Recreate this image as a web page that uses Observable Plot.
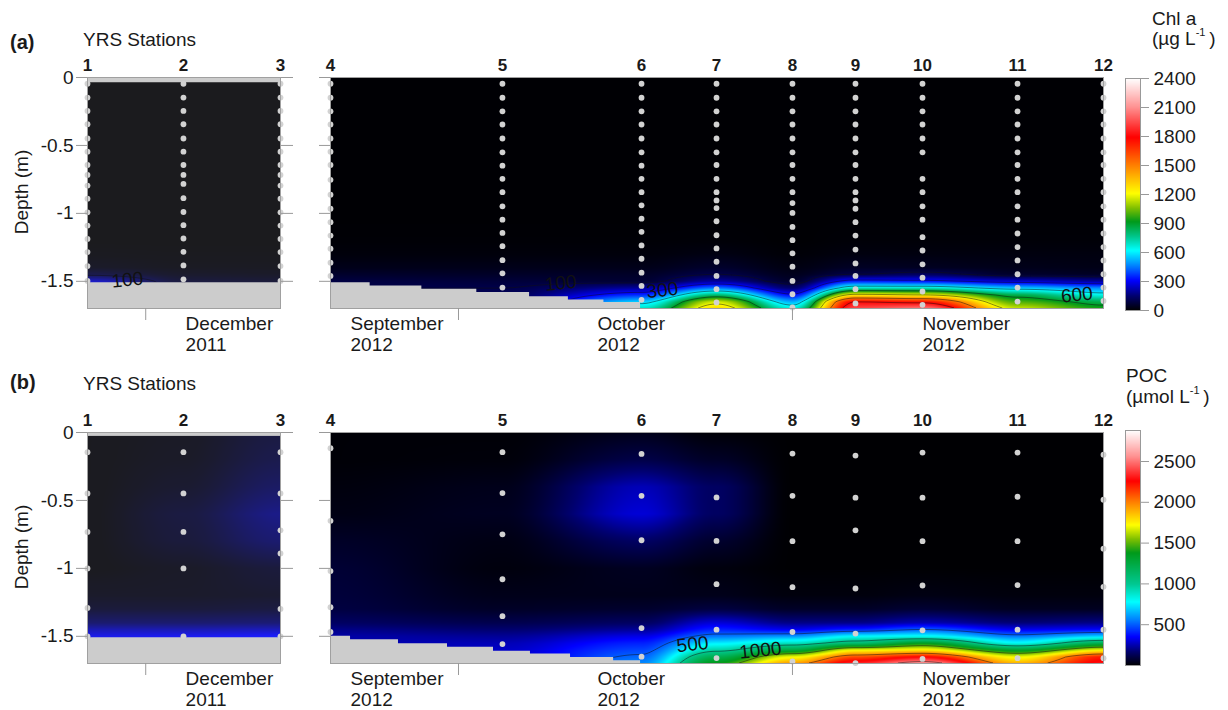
<!DOCTYPE html>
<html><head><meta charset="utf-8">
<script src="https://cdn.jsdelivr.net/npm/d3@7"></script>
<script src="https://cdn.jsdelivr.net/npm/@observablehq/plot@0.6"></script>
<style>
body{margin:0;background:#fff;font-family:"Liberation Sans",Arial,Helvetica,sans-serif;}
#root{position:relative;width:1228px;height:710px;overflow:hidden;background:#fff;}
.lbl{position:absolute;font-size:19px;color:#1a1a1a;white-space:nowrap;line-height:1;}
.lbl sup{font-size:11px;vertical-align:9px;line-height:0;}
</style></head><body><div id="root"></div>
<script>
// ---------- data ----------
const depthLevels = [0, -0.2, -0.4, -0.6, -0.8, -1.0, -1.2, -1.3, -1.4, -1.45, -1.5, -1.55, -1.6, -1.65, -1.7];
const depthTicks = [0, -0.5, -1, -1.5];

// x = days since 1 Dec 2011 (left) / since 1 Sep 2012 (right)
const stations2011 = ["1", "2", "3"];
const stationDays2011 = [-5.4, 3.5, 12.5];
const stations2012 = ["4", "5", "6", "7", "8", "9", "10", "11", "12"];
const stationDays2012 = [18.12, 34.08, 46.99, 53.95, 61.0, 66.85, 73.07, 81.89, 89.87];

const monthTickDays2011 = [0];
const monthTickDays2012 = [30, 61];
const monthLabels2011 = ["December\n2011"];
const monthLabelDays2011 = [3.7];
const monthLabels2012 = ["September\n2012", "October\n2012", "November\n2012"];
const monthLabelDays2012 = [19.98, 42.9, 73.07];

// Chl a (µg/L) per station at depthLevels
const chl2011 = [
  [5, 5, 5, 5, 5, 5, 5, 10, 25, 80, 250, 300, 300, 300, 300],
  [5, 5, 5, 5, 5, 5, 5, 8, 15, 30, 60, 70, 70, 70, 70],
  [5, 5, 5, 5, 5, 5, 5, 8, 15, 25, 50, 60, 60, 60, 60]
];
const chl2012 = [
  [5, 5, 5, 5, 5, 5, 8, 15, 35, 60, 90, 100, 100, 100, 100],
  [5, 5, 5, 5, 5, 5, 8, 15, 35, 55, 80, 100, 120, 120, 120],
  [5, 5, 5, 5, 5, 5, 8, 15, 35, 55, 70, 200, 360, 560, 700],
  [5, 5, 5, 5, 5, 5, 10, 25, 60, 100, 200, 450, 800, 1150, 1300],
  [5, 5, 5, 5, 5, 5, 5, 10, 25, 40, 60, 150, 320, 520, 680],
  [5, 5, 5, 5, 5, 5, 10, 20, 50, 100, 350, 700, 1250, 1800, 1950],
  [5, 5, 5, 5, 5, 5, 10, 20, 45, 130, 330, 700, 1200, 1750, 2050],
  [5, 5, 5, 5, 5, 5, 10, 20, 35, 60, 250, 550, 850, 1000, 1150],
  [5, 5, 5, 5, 5, 5, 10, 20, 30, 50, 200, 480, 650, 850, 950]
];

// POC (µmol/L) per station at depthLevels
const poc2011 = [
  [10, 10, 10, 10, 10, 10, 30, 60, 150, 250, 330, 350, 350, 350, 350],
  [20, 25, 40, 70, 60, 25, 30, 60, 150, 250, 340, 360, 360, 360, 360],
  [70, 90, 130, 190, 150, 60, 40, 70, 160, 260, 360, 380, 380, 380, 380]
];
const poc2012 = [
  [10, 10, 20, 30, 60, 80, 90, 100, 150, 200, 240, 250, 250, 250, 250],
  [10, 15, 40, 50, 30, 20, 40, 60, 120, 170, 220, 260, 280, 280, 280],
  [40, 110, 260, 300, 150, 50, 40, 70, 150, 220, 320, 400, 460, 520, 580],
  [10, 60, 150, 150, 70, 20, 40, 100, 300, 400, 550, 750, 950, 1200, 1400],
  [5, 5, 5, 5, 5, 5, 20, 60, 200, 330, 600, 900, 1250, 1700, 1950],
  [5, 5, 5, 5, 5, 5, 20, 60, 200, 400, 780, 1100, 1700, 2100, 2350],
  [5, 5, 5, 5, 5, 5, 30, 80, 250, 500, 800, 1350, 1750, 2250, 2600],
  [5, 5, 5, 5, 5, 5, 20, 50, 180, 330, 550, 800, 1300, 1700, 1900],
  [5, 5, 5, 5, 5, 5, 20, 50, 200, 350, 700, 1200, 1700, 2200, 2300]
];

// sampling depths (m) per station
const chlDots2011 = [
  [-0.046, -0.148, -0.246, -0.344, -0.449, -0.546, -0.644, -0.717, -0.795, -0.892, -0.992, -1.09, -1.188, -1.285, -1.388, -1.497],
  [-0.046, -0.148, -0.246, -0.344, -0.449, -0.546, -0.644, -0.717, -0.783, -0.888, -0.99, -1.087, -1.185, -1.283, -1.383, -1.485],
  [-0.046, -0.148, -0.246, -0.344, -0.449, -0.546, -0.644, -0.717, -0.795, -0.892, -0.992, -1.09, -1.188, -1.285, -1.388, -1.497]
];
const chlDots2012 = [
  [-0.046, -0.149, -0.249, -0.346, -0.449, -0.546, -0.644, -0.753, -0.863, -0.966, -1.065, -1.163, -1.26, -1.363, -1.46],
  [-0.046, -0.149, -0.249, -0.346, -0.449, -0.551, -0.649, -0.746, -0.844, -0.948, -1.046, -1.144, -1.241, -1.344, -1.441, -1.546],
  [-0.046, -0.149, -0.249, -0.346, -0.449, -0.551, -0.649, -0.746, -0.844, -0.941, -1.039, -1.136, -1.236, -1.334, -1.436, -1.534, -1.636],
  [-0.046, -0.149, -0.249, -0.346, -0.449, -0.551, -0.644, -0.746, -0.844, -0.905, -0.961, -1.058, -1.161, -1.258, -1.356, -1.46, -1.558, -1.656],
  [-0.046, -0.149, -0.249, -0.346, -0.449, -0.551, -0.644, -0.746, -0.844, -0.924, -0.997, -1.10, -1.197, -1.295, -1.392, -1.497, -1.595, -1.692],
  [-0.046, -0.149, -0.249, -0.346, -0.449, -0.551, -0.644, -0.746, -0.844, -0.905, -0.966, -1.065, -1.163, -1.266, -1.368, -1.46, -1.558, -1.663],
  [-0.046, -0.149, -0.249, -0.346, -0.449, -0.551, -0.746, -0.844, -0.948, -1.046, -1.175, -1.273, -1.375, -1.473, -1.575, -1.673],
  [-0.046, -0.149, -0.249, -0.346, -0.449, -0.551, -0.644, -0.746, -0.844, -0.948, -1.046, -1.148, -1.248, -1.346, -1.448, -1.546, -1.649],
  [-0.046, -0.149, -0.249, -0.346, -0.449, -0.551, -0.644, -0.746, -0.844, -0.948, -1.046, -1.148, -1.248, -1.346, -1.448, -1.546, -1.644]
];
const pocDots2011 = [
  [-0.145, -0.448, -0.732, -1.0, -1.291, -1.5],
  [-0.145, -0.448, -0.732, -1.0, -1.5],
  [-0.145, -0.448, -0.72, -0.89, -1.298, -1.5]
];
const pocDots2012 = [
  [-0.116, -0.65, -1.02, -1.286, -1.468],
  [-0.145, -0.446, -0.749, -1.08, -1.352, -1.557],
  [-0.158, -0.466, -0.793, -1.439, -1.65],
  [-0.478, -0.798, -1.116, -1.451, -1.66],
  [-0.155, -0.466, -0.8, -1.138, -1.468, -1.685],
  [-0.17, -0.48, -0.72, -1.148, -1.48, -1.697],
  [-0.148, -0.48, -0.8, -1.126, -1.456, -1.666],
  [-0.148, -0.473, -0.8, -1.123, -1.451, -1.661],
  [-0.163, -0.495, -0.855, -1.136, -1.451, -1.661]
];

// sea bed
const bedDays2011 = [-5.4, 12.5];
const chlBedDepth2011 = [-1.51, -1.51];
const pocBedDepth2011 = [-1.51, -1.51];
const chlBedDays2012 = [18.12, 21.8, 26.6, 31.7, 36.6, 40.2, 43.5, 46.9];
const chlBedDepth2012 = [-1.51, -1.534, -1.558, -1.582, -1.614, -1.638, -1.656, -1.7];
const pocBedDays2012 = [18.12, 19.98, 24.43, 28.98, 33.25, 36.68, 40.4, 44.4, 46.9];
const pocBedDepth2012 = [-1.5, -1.525, -1.555, -1.58, -1.61, -1.63, -1.655, -1.68, -1.7];

// contour labels
const chlContourText2011 = ["100"];
const chlContourDay2011 = [-1.7];
const chlContourDepth2011 = [-1.49];
const chlContourText2012 = ["100", "300", "600"];
const chlContourDay2012 = [39.47, 48.93, 87.4];
const chlContourDepth2012 = [-1.514, -1.566, -1.60];
const pocContourText2011 = [];
const pocContourDay2011 = [];
const pocContourDepth2011 = [];
const pocContourText2012 = ["500", "1000"];
const pocContourDay2012 = [51.72, 58.03];
const pocContourDepth2012 = [-1.56, -1.604];

const chlThresholds = [100, 300, 600, 900, 1200, 1500, 1800];
const pocThresholds = [500, 1000, 1500, 2000, 2500];

// colour bars
const chlBarTicks = [0, 300, 600, 900, 1200, 1500, 1800, 2100, 2400];
const chlBarMax = 2400;
const pocBarTicks = [500, 1000, 1500, 2000, 2500];
const pocBarMax = 2880;

const colorRamp = ["#000000", "#00006e", "#0000ff", "#0080ff", "#00ffff", "#00c890", "#009a1a", "#80c000", "#ffff00", "#ff8000", "#ff0000", "#ff9090", "#ffffff"];
const chlRampStops = [0, 150, 310, 460, 620, 760, 920, 1060, 1210, 1500, 1790, 2100, 2400];
const pocRampStops = [0, 170, 350, 560, 780, 1000, 1380, 1550, 1720, 2000, 2260, 2560, 2880];

// ---------- drawing ----------
const FONT = '"Liberation Sans", Arial, Helvetica, sans-serif';
const chlColor = {type: "linear", domain: chlRampStops, range: colorRamp, interpolate: "rgb", clamp: true};
const pocColor = {type: "linear", domain: pocRampStops, range: colorRamp, interpolate: "rgb", clamp: true};

// bilinear (smoothed horizontally) interpolation over the station x depth grid
function gridInterpolate(index, width, height, X, Y, V) {
  const idx = Array.from(index);
  const xs = [...new Set(idx.map(i => X[i]))].sort((a, b) => a - b);
  const ys = [...new Set(idx.map(i => Y[i]))].sort((a, b) => a - b);
  const xi = new Map(xs.map((x, k) => [x, k])), yi = new Map(ys.map((y, k) => [y, k]));
  const G = xs.map(() => new Float64Array(ys.length));
  for (const i of idx) G[xi.get(X[i])][yi.get(Y[i])] = +V[i];
  const bracket = (arr, v, smooth) => {
    let k = d3.bisectRight(arr, v) - 1;
    k = Math.max(0, Math.min(arr.length - 2, k));
    let t = (v - arr[k]) / (arr[k + 1] - arr[k]);
    t = Math.max(0, Math.min(1, t));
    if (smooth) t = t * t * (3 - 2 * t);
    return [k, t];
  };
  const cols = d3.range(width).map(c => bracket(xs, c + 0.5, true));
  const rows = d3.range(height).map(r => bracket(ys, r + 0.5, false));
  const out = new Float64Array(width * height);
  for (let r = 0; r < height; r++) {
    const [j, u] = rows[r];
    for (let c = 0; c < width; c++) {
      const [k, t] = cols[c];
      const a = G[k][j] * (1 - u) + G[k][j + 1] * u;
      const b = G[k + 1][j] * (1 - u) + G[k + 1][j + 1] * u;
      out[r * width + c] = a * (1 - t) + b * t;
    }
  }
  return out;
}

function panel(o) {
  const field = o.days.flatMap((d, i) => depthLevels.map((z, j) => ({x: d, y: z, v: o.values[i][j]})));
  const samples = o.days.flatMap((d, i) => o.dots[i].map(z => ({x: d, y: z})));
  const bed = o.bedDays.map((d, i) => ({x: d, y: o.bedDepth[i]}));
  const months = o.monthLabelDays.map((d, i) => ({x: d, text: o.monthLabels[i]}));
  const clabels = o.cDays.map((d, i) => ({x: d, y: o.cDepths[i], text: o.cText[i]}));
  const names = new Map(o.days.map((d, i) => [d, o.names[i]]));
  const xDomain = [o.days[0], o.days[o.days.length - 1]];
  const yDomain = d3.extent(depthLevels);
  return Plot.plot({
    width: o.width, height: o.height,
    marginLeft: o.ml, marginRight: o.mr, marginTop: 77, marginBottom: o.height - 308,
    style: {fontFamily: FONT, fontSize: "19px", color: "#1a1a1a", background: "transparent", overflow: "visible"},
    x: {domain: xDomain},
    y: {domain: yDomain},
    color: o.color,
    marks: [
      Plot.frame({fill: "#cccccc"}),
      Plot.raster(field, {x: "x", y: "y", fill: "v", interpolate: gridInterpolate,
        x1: xDomain[0], x2: xDomain[1], y1: yDomain[0], y2: o.top, pixelSize: 1, opacity: o.opacity}),
      Plot.contour(field, {x: "x", y: "y", value: "v", interpolate: gridInterpolate, thresholds: o.thresholds,
        x1: xDomain[0], x2: xDomain[1], y1: yDomain[0], y2: o.top, pixelSize: 1,
        fill: "none", stroke: "#111", strokeWidth: 0.7, strokeOpacity: 0.7}),
      Plot.areaY(bed, {x: "x", y1: yDomain[0], y2: "y", curve: "step-after", fill: "#cccccc"}),
      Plot.dot(samples, {x: "x", y: "y", r: 2.9, fill: "#d2d2d2"}),
      Plot.text(clabels, {x: "x", y: "y", text: "text", fontSize: 19, fill: "#111", rotate: -6}),
      Plot.frame({stroke: "#a0a0a0"}),
      Plot.axisY({anchor: "left", ticks: depthTicks, tickSize: 11, tickPadding: 3, stroke: "#999", label: null,
        tickFormat: o.leftLabels ? (d => String(d)) : (() => "")}),
      ...(o.rightTicks ? [Plot.axisY({anchor: "right", ticks: depthTicks, tickSize: 12, stroke: "#999", label: null, tickFormat: () => ""})] : []),
      Plot.axisX({anchor: "top", ticks: o.days, tickSize: 0, tickPadding: 7, label: null,
        tickFormat: d => names.get(d), fontWeight: "bold", fontSize: 17}),
      Plot.axisX({anchor: "bottom", ticks: o.monthTicks, tickSize: 12, stroke: "#999", label: null, tickFormat: () => ""}),
      Plot.text(months, {x: "x", text: "text", frameAnchor: "bottom", dy: 6, textAnchor: "start", lineAnchor: "top", lineHeight: 1.12, fontSize: 19})
    ]
  });
}

function colorbar(o) {
  return Plot.plot({
    width: 128, height: 360, marginLeft: 25, marginRight: 88, marginTop: o.mt, marginBottom: o.mb,
    style: {fontFamily: FONT, fontSize: "19px", color: "#1a1a1a", background: "transparent", overflow: "visible"},
    x: {domain: [0, 1], axis: null},
    y: {domain: [0, o.max]},
    color: o.color,
    marks: [
      Plot.raster({fill: (x, y) => y, x1: 0, x2: 1, y1: 0, y2: o.max, pixelSize: 1}),
      Plot.frame({stroke: "#999"}),
      Plot.axisY({anchor: "right", ticks: o.ticks, tickSize: 8, tickPadding: 5, stroke: "#999", label: null, tickFormat: d => String(d)})
    ]
  });
}

const root = document.getElementById("root");
function place(el, left, top) {
  el.style.position = "absolute"; el.style.left = left + "px"; el.style.top = top + "px";
  root.appendChild(el);
}
function label(html, left, top, extra = "") {
  const d = document.createElement("div");
  d.className = "lbl"; d.innerHTML = html;
  d.style.cssText += `left:${left}px;top:${top}px;${extra}`;
  root.appendChild(d);
}

const rows = [
  {top: 0, height: 360, color: chlColor, thresholds: chlThresholds,
   v11: chl2011, v12: chl2012, d11: chlDots2011, d12: chlDots2012,
   bed11: chlBedDepth2011, bedDays12: chlBedDays2012, bed12: chlBedDepth2012,
   c11: [chlContourText2011, chlContourDay2011, chlContourDepth2011],
   c12: [chlContourText2012, chlContourDay2012, chlContourDepth2012],
   leftTop: -0.035, barMax: chlBarMax, barTicks: chlBarTicks, barMt: 78, barMb: 50},
  {top: 355, height: 355, color: pocColor, thresholds: pocThresholds,
   v11: poc2011, v12: poc2012, d11: pocDots2011, d12: pocDots2012,
   bed11: pocBedDepth2011, bedDays12: pocBedDays2012, bed12: pocBedDepth2012,
   c11: [pocContourText2011, pocContourDay2011, pocContourDepth2011],
   c12: [pocContourText2012, pocContourDay2012, pocContourDepth2012],
   leftTop: -0.025, barMax: pocBarMax, barTicks: pocBarTicks, barMt: 75, barMb: 50}
];

for (const r of rows) {
  place(panel({width: 300, height: r.height, ml: 87, mr: 20, color: r.color, thresholds: r.thresholds,
    days: stationDays2011, names: stations2011, values: r.v11, dots: r.d11,
    bedDays: bedDays2011, bedDepth: r.bed11,
    monthTicks: monthTickDays2011, monthLabelDays: monthLabelDays2011, monthLabels: monthLabels2011,
    cText: r.c11[0], cDays: r.c11[1], cDepths: r.c11[2],
    top: r.leftTop, opacity: 0.87, leftLabels: true, rightTicks: true}), 0, r.top);
  place(panel({width: 820, height: r.height, ml: 30, mr: 17, color: r.color, thresholds: r.thresholds,
    days: stationDays2012, names: stations2012, values: r.v12, dots: r.d12,
    bedDays: r.bedDays12, bedDepth: r.bed12,
    monthTicks: monthTickDays2012, monthLabelDays: monthLabelDays2012, monthLabels: monthLabels2012,
    cText: r.c12[0], cDays: r.c12[1], cDepths: r.c12[2],
    top: 0, opacity: 1, leftLabels: false, rightTicks: false}), 300, r.top);
  place(colorbar({color: r.color, max: r.barMax, ticks: r.barTicks, mt: r.barMt, mb: r.barMb}), 1100, r.top);
}

label("(a)", 10, 32, "font-weight:bold;font-size:20px;");
label("YRS Stations", 83, 30);
label("(b)", 10, 372, "font-weight:bold;font-size:20px;");
label("YRS Stations", 83, 374);
label("Depth (m)", 21, 192, "transform:translate(-50%,-50%) rotate(-90deg);");
label("Depth (m)", 21, 547, "transform:translate(-50%,-50%) rotate(-90deg);");
label("Chl a", 1152, 9);
label("(µg L<sup>-1</sup>&thinsp;)", 1152, 29);
label("POC", 1126, 366);
label("(µmol L<sup>-1</sup>&thinsp;)", 1126, 387);
</script>
</body></html>
